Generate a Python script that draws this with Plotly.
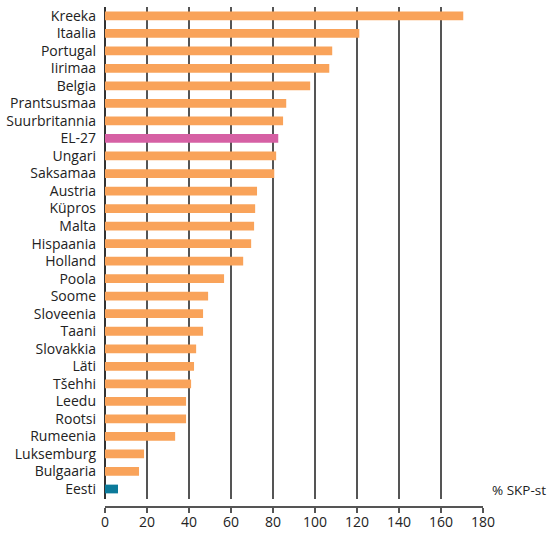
import plotly.graph_objects as go

countries = ["Kreeka", "Itaalia", "Portugal", "Iirimaa", "Belgia", "Prantsusmaa",
             "Suurbritannia", "EL-27", "Ungari", "Saksamaa", "Austria", "Küpros",
             "Malta", "Hispaania", "Holland", "Poola", "Soome", "Sloveenia", "Taani",
             "Slovakkia", "Läti", "Tšehhi", "Leedu", "Rootsi", "Rumeenia",
             "Luksemburg", "Bulgaaria", "Eesti"]
debt = [170.6, 121.1, 108.2, 106.8, 97.7, 86.3, 84.8, 82.5, 81.5, 80.6, 72.4, 71.5,
        71.0, 69.6, 65.8, 56.7, 49.1, 46.7, 46.7, 43.4, 42.4, 41.0, 38.6, 38.6,
        33.4, 18.6, 16.2, 6.2]
x_ticks = [0, 20, 40, 60, 80, 100, 120, 140, 160, 180]

ORANGE = "#F9A35A"
colors = []
for c in countries:
    if c == "EL-27":
        colors.append("#D660A4")
    elif c == "Eesti":
        colors.append("#0B7A9A")
    else:
        colors.append(ORANGE)

fig = go.Figure()
fig.add_trace(go.Bar(x=debt, y=countries, orientation="h", marker_color=colors,
                     marker_line_width=0, width=0.5))

fig.update_layout(
    width=554, height=533,
    margin=dict(l=105, r=71, t=7, b=26),
    plot_bgcolor="white", paper_bgcolor="white",
    font=dict(family="Open Sans", size=14, color="#222"),
    showlegend=False,
)
fig.update_xaxes(range=[0, 180], tickvals=x_ticks, showgrid=True, gridcolor="#555",
                 gridwidth=1.5, zeroline=True, zerolinecolor="#333", zerolinewidth=1.5,
                 showline=True, linecolor="#555", linewidth=1.5, ticks="outside",
                 ticklen=5, tickcolor="#555", tickwidth=1.5, anchor="free", position=0,
                 ticklabelstandoff=-3, tickfont=dict(size=14), automargin=False)
fig.update_yaxes(autorange="reversed", domain=[0.016, 1], showgrid=False,
                 ticklabelstandoff=8, tickfont=dict(size=14), automargin=False)

fig.add_annotation(x=180, y="Eesti", xref="x", yref="y", text="% SKP-st",
                   showarrow=False, xanchor="left", xshift=7, yanchor="middle",
                   yshift=-1, font=dict(size=13.5))

# drop the default page margin so the figure sits at the window's corner
fig.write_html("out.html", config={"displayModeBar": False},
               post_script="document.body.style.margin='0';")
